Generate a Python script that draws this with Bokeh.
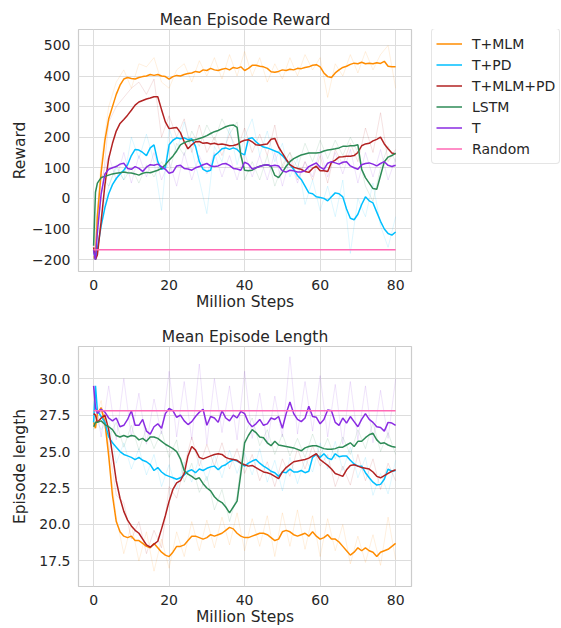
from bokeh.plotting import figure
from bokeh.models import Legend, LegendItem, FixedTicker, CustomJSTickFormatter, Range1d
from bokeh.layouts import column, row
from bokeh.embed import file_html
from bokeh.resources import INLINE

# ---------------- data ----------------
steps = [0, 0.5] + list(range(1, 81))        # million steps (smoothed curves)
raw_steps = list(range(0, 81, 2))            # million steps (raw, faint curves)

series_names = ["T+MLM", "T+PD", "T+MLM+PD", "LSTM", "T", "Random"]
series_colors = ["#ff8c00", "#00bfff", "#b22222", "#2e8b57", "#8a2be2", "#ff69b4"]

reward_t_mlm = [-190, -195, -60, 85, 190, 260, 300, 340, 370, 390, 395, 392, 390, 395, 398, 400, 405, 402, 405, 400,
                398, 390, 398, 402, 400, 405, 408, 410, 415, 412, 420, 418, 425, 420, 418, 422, 425, 420, 428, 425,
                430, 418, 425, 435, 435, 432, 430, 425, 414, 412, 415, 420, 418, 422, 420, 425, 424, 428, 430, 435,
                437, 430, 410, 398, 395, 410, 420, 428, 432, 438, 442, 440, 445, 440, 442, 440, 443, 441, 448, 432,
                430, 430]
reward_t_pd = [-170, -200, -165, -90, -30, 15, 45, 65, 80, 92, 110, 140, 160, 158, 150, 140, 165, 175, 120, 95,
               100, 175, 190, 198, 195, 198, 192, 195, 170, 120, 95, 88, 92, 140, 150, 162, 165, 160, 165, 160,
               148, 142, 195, 198, 185, 175, 168, 165, 160, 155, 150, 140, 125, 110, 95, 75, 62, 40, 18, 15,
               5, 3, 0, -8, 5, 18, 15, 5, -35, -65, -70, -52, -20, 5, -8, -15, -45, -75, -100, -115,
               -120, -110]
reward_t_mlm_pd = [-160, -200, -185, -75, 45, 130, 180, 220, 245, 258, 272, 288, 305, 315, 320, 325, 328, 332, 332, 290,
                   250, 228, 230, 232, 215, 185, 162, 175, 185, 186, 180, 182, 178, 180, 176, 178, 175, 172, 173, 176,
                   185, 190, 192, 185, 175, 174, 176, 178, 193, 196, 168, 148, 128, 110, 102, 98, 95, 88, 85, 98,
                   105, 90, 90, 88, 118, 125, 135, 136, 138, 138, 140, 150, 172, 178, 180, 188, 193, 200, 178, 162,
                   148, 145]
reward_lstm = [-155, 20, 50, 68, 72, 76, 80, 82, 84, 86, 84, 83, 80, 76, 82, 85, 84, 88, 92, 98,
               110, 125, 138, 155, 175, 182, 187, 190, 192, 196, 200, 205, 212, 218, 222, 228, 234, 238, 240, 232,
               140, 92, 90, 92, 100, 105, 108, 110, 105, 75, 68, 85, 105, 120, 130, 136, 142, 145, 148, 148,
               148, 150, 155, 158, 160, 162, 165, 170, 170, 172, 172, 175, 95, 68, 50, 32, 30, 75, 120, 135,
               140, 148]
reward_t = [-170, -200, -110, 15, 80, 95, 100, 104, 112, 115, 98, 95, 104, 98, 88, 102, 110, 108, 112, 104,
            95, 82, 86, 106, 108, 98, 96, 92, 100, 104, 110, 114, 106, 104, 106, 112, 114, 108, 98, 96,
            92, 118, 112, 96, 100, 104, 108, 110, 106, 108, 106, 90, 86, 92, 90, 86, 86, 90, 104, 110,
            116, 102, 95, 115, 120, 116, 112, 118, 120, 106, 100, 95, 110, 114, 116, 112, 106, 114, 120, 108,
            104, 108]
reward_random = -168

raw_reward_t_mlm = [-200, 120, 300, 380, 420, 360, 440, 430, 460, 380, 360, 420, 440, 380, 450, 400, 460, 390, 470, 400,
                    480, 400, 460, 380, 440, 390, 460, 400, 470, 420, 460, 330, 440, 400, 470, 410, 480, 420, 470, 500, 360]
raw_reward_t_pd = [-200, -60, 40, 100, 60, 200, 130, 210, 120, -40, 230, 150, 250, 160, 60, -50, 170, 120, 230, 110,
                   200, 260, 140, 220, 120, 180, 70, 130, -20, 60, -40, 40, -60, 60, -180, 0, -60, 50, -90, -160, -60]
raw_reward_t_mlm_pd = [-200, 0, 250, 300, 330, 360, 380, 340, 390, 200, 270, 200, 260, 150, 240, 150, 200, 140, 210, 160,
                       230, 150, 210, 140, 240, 100, 150, 60, 120, 60, 140, 50, 160, 110, 180, 120, 230, 150, 280, 120, 160]
raw_reward_lstm = [-150, 80, 40, 110, 60, 100, 50, 110, 70, 120, 80, 180, 140, 220, 170, 240, 190, 260, 210, 250,
                   60, 120, 60, 140, 40, 110, 150, 100, 180, 120, 190, 130, 190, 140, 200, 150, 40, -10, 100, 170, 120]
raw_reward_t = [-200, 60, 140, 60, 150, 50, 140, 70, 150, 60, 120, 40, 150, 60, 140, 80, 150, 70, 140, 60,
                150, 70, 140, 60, 150, 40, 130, 50, 120, 70, 160, 70, 150, 80, 160, 50, 150, 70, 160, 60, 130]

length_t_mlm = [27.0, 26.6, 27.6, 28.0, 27.0, 24.7, 22.0, 20.2, 19.5, 19.2, 19.1, 19.2, 18.9, 18.9, 18.7, 18.5, 18.4, 18.7, 18.4, 18.1,
                17.9, 17.8, 18.1, 18.5, 18.5, 18.6, 18.9, 19.2, 19.2, 19.1, 19.0, 19.1, 19.3, 19.2, 19.3, 19.4, 19.6, 19.8, 19.7, 19.4,
                19.2, 19.1, 19.1, 19.2, 19.3, 19.4, 19.4, 19.3, 19.1, 18.9, 19.0, 19.5, 19.6, 19.5, 19.3, 19.2, 19.3, 19.4, 19.2, 19.5,
                19.2, 19.0, 19.1, 19.3, 19.0, 19.0, 18.8, 18.5, 18.2, 17.9, 18.1, 18.4, 18.2, 18.4, 18.2, 18.1, 17.8, 18.1, 18.2, 18.3,
                18.5, 18.7]
length_t_pd = [27.0, 29.5, 27.8, 27.4, 27.0, 26.0, 25.6, 25.3, 25.0, 24.8, 24.7, 24.6, 24.45, 24.6, 24.4, 24.3, 24.1, 23.7, 23.9, 23.6,
               23.4, 23.3, 23.2, 23.1, 23.2, 23.4, 23.65, 23.75, 23.55, 23.8, 23.7, 23.85, 23.95, 24.0, 23.75, 24.0, 24.1, 24.3, 24.45, 24.35,
               24.2, 24.0, 24.2, 24.35, 24.45, 24.2, 24.0, 23.85, 23.65, 23.55, 23.3, 23.6, 23.55, 23.8, 23.6, 23.6, 23.7, 23.55, 23.65, 24.6,
               24.8, 24.6, 24.85, 24.55, 24.45, 24.85, 24.65, 24.7, 24.7, 24.4, 24.15, 24.0, 24.0, 23.55, 23.2, 22.9, 22.7, 22.75, 23.1, 23.8,
               23.65, 23.7]
length_t_mlm_pd = [27.6, 27.5, 27.0, 27.3, 27.5, 26.5, 24.8, 23.0, 21.8, 20.9, 20.3, 19.9, 19.6, 19.4, 19.0, 18.6, 18.45, 18.65, 18.85, 19.7,
                   20.6, 21.6, 22.4, 22.85, 23.0, 23.5, 24.7, 25.35, 25.1, 24.6, 24.5, 24.6, 24.7, 24.8, 24.85, 24.8, 24.6, 24.5, 24.45, 24.4,
                   24.2, 24.1, 24.0, 24.05, 23.9, 23.75, 23.6, 23.55, 23.45, 23.3, 23.15, 23.6, 23.9, 24.1, 24.3, 24.35, 24.4, 24.45, 24.55, 24.7,
                   24.85, 24.45, 24.25, 24.05, 23.8, 23.5, 23.4, 23.3, 23.75, 24.05, 24.1, 24.0, 23.9, 23.85, 23.8, 23.6, 23.3, 23.2, 23.35, 23.5,
                   23.65, 23.75]
length_lstm = [26.7, 27.0, 27.0, 27.1, 26.85, 26.7, 26.5, 26.1, 26.0, 26.1, 26.0, 26.1, 26.05, 25.8, 25.9, 25.7, 26.0, 26.0, 25.9, 25.7,
               25.5, 25.35, 25.2, 25.0, 24.5, 23.7, 23.45, 23.3, 23.1, 23.2, 22.8, 22.5, 22.3, 21.9, 21.65, 21.5, 21.2, 20.8, 21.2, 21.6,
               23.5, 25.6, 26.1, 26.5, 26.3, 26.0, 25.95, 25.6, 25.4, 25.7, 25.45, 25.4, 25.35, 25.3, 25.25, 25.15, 25.05, 25.25, 25.35, 25.4,
               25.4, 25.3, 25.2, 25.15, 25.15, 25.2, 25.3, 25.3, 25.45, 25.6, 25.35, 25.7, 25.7, 25.95, 26.15, 26.25, 25.8, 25.55, 25.6, 25.45,
               25.35, 25.3]
length_t = [29.5, 28.0, 27.6, 27.9, 27.7, 27.3, 27.1, 27.3, 26.7, 26.8, 27.2, 27.8, 26.8, 26.8, 27.2, 26.4, 26.2, 26.7, 26.9, 26.6,
            27.6, 27.95, 27.8, 27.35, 27.5, 27.1, 26.85, 27.05, 27.4, 27.7, 27.9, 26.8, 27.4, 27.3, 27.0, 27.8, 27.3, 27.1, 27.5, 27.3,
            27.75, 27.6, 27.0, 26.7, 26.9, 27.2, 26.8, 26.9, 27.3, 27.2, 27.4, 26.6, 27.6, 28.4, 27.6, 27.2, 27.05, 27.3, 28.1, 27.4,
            27.35, 26.9, 27.2, 27.85, 27.8, 27.0, 26.8, 27.3, 26.95, 27.4, 27.05, 26.7, 27.2, 27.6, 27.2, 27.0, 26.7, 26.65, 26.4, 27.0,
            26.95, 26.8]
length_random = 27.8

raw_length_t_mlm = [27.0, 28.5, 25.0, 20.5, 18.0, 20.0, 17.5, 19.5, 16.8, 19.0, 17.0, 19.5, 17.8, 20.2, 18.2, 20.3, 18.4, 20.5, 18.6, 20.8,
                    18.2, 20.4, 18.5, 20.6, 17.8, 20.8, 18.5, 21.0, 18.3, 20.6, 17.8, 20.4, 18.2, 20.0, 17.3, 19.2, 17.4, 19.3, 17.2, 20.5, 17.6]
raw_length_t_pd = [27.5, 26.5, 27.3, 24.2, 25.6, 23.8, 25.2, 23.4, 24.8, 22.6, 24.1, 22.4, 24.3, 22.9, 24.6, 23.0, 24.8, 23.2, 25.1, 23.5,
                   24.9, 23.4, 25.2, 22.9, 24.4, 22.3, 24.6, 22.8, 24.5, 23.6, 25.6, 23.8, 25.7, 23.7, 25.3, 23.2, 24.6, 22.0, 23.5, 22.1, 24.4]
raw_length_t_mlm_pd = [27.5, 28.0, 25.5, 22.0, 21.5, 19.0, 20.2, 18.0, 19.6, 18.4, 22.6, 21.8, 24.0, 26.0, 24.0, 25.5, 24.0, 25.6, 23.8, 25.2,
                       23.5, 24.8, 23.0, 24.3, 22.6, 24.5, 23.3, 25.2, 23.8, 25.4, 24.0, 24.8, 22.6, 24.0, 22.7, 24.8, 23.0, 24.5, 22.4, 24.2, 23.0]
raw_length_lstm = [26.5, 27.8, 26.0, 27.0, 25.3, 26.8, 25.1, 26.6, 25.2, 26.4, 24.6, 25.8, 22.9, 24.2, 22.2, 23.3, 21.0, 22.4, 20.2, 22.0,
                   26.2, 27.3, 25.4, 26.5, 24.8, 26.2, 24.7, 25.9, 24.6, 26.2, 24.7, 25.9, 24.5, 26.0, 24.8, 26.5, 25.2, 27.0, 25.0, 26.3, 24.8]
raw_length_t = [29.5, 26.0, 29.5, 25.8, 30.0, 26.0, 29.0, 25.5, 28.6, 26.2, 30.5, 26.0, 29.8, 25.8, 31.0, 25.5, 30.0, 26.3, 29.5, 25.8,
                30.5, 25.9, 29.0, 25.5, 28.8, 26.0, 31.5, 26.2, 29.8, 26.4, 30.2, 26.0, 29.6, 25.5, 29.8, 25.8, 29.5, 25.6, 29.2, 25.9, 30.0]

x_ticks = [0, 20, 40, 60, 80]
reward_ticks = [-200, -100, 0, 100, 200, 300, 400, 500]
length_ticks = [17.5, 20.0, 22.5, 25.0, 27.5, 30.0]

FONT = "DejaVu Sans"
TXT = "#262626"


def style(p, title, ylabel, yticks, yfmt, ylabel_standoff):
    p.title.text = title
    p.title.align = "center"
    p.title.text_font = FONT
    p.title.text_font_size = "15.5px"
    p.title.text_font_style = "normal"
    p.title.text_color = TXT
    p.title.standoff = 2
    p.outline_line_color = "#cccccc"
    p.outline_line_width = 1.2
    p.background_fill_color = "white"
    p.border_fill_color = "white"
    for g in (p.xgrid[0], p.ygrid[0]):
        g.grid_line_color = "#dddddd"
        g.grid_line_width = 1
    p.xaxis.ticker = FixedTicker(ticks=x_ticks)
    p.yaxis.ticker = FixedTicker(ticks=yticks)
    p.yaxis.formatter = CustomJSTickFormatter(code=yfmt)
    p.xaxis.axis_label = "Million Steps"
    p.yaxis.axis_label = ylabel
    for ax in (p.xaxis[0], p.yaxis[0]):
        ax.axis_line_color = None
        ax.major_tick_line_color = None
        ax.minor_tick_line_color = None
        ax.major_tick_out = 0
        ax.major_tick_in = 0
        ax.major_label_text_font = FONT
        ax.major_label_text_font_size = "14px"
        ax.major_label_text_color = TXT
        ax.major_label_standoff = 8
        ax.axis_label_text_font = FONT
        ax.axis_label_text_font_size = "15.5px"
        ax.axis_label_text_font_style = "normal"
        ax.axis_label_text_color = TXT
    p.xaxis.axis_label_standoff = 0
    p.yaxis.axis_label_standoff = ylabel_standoff


# ---------------- top: reward ----------------
top = figure(width=420, height=318, x_range=Range1d(-4, 84.2), y_range=Range1d(-239, 552),
             output_backend="svg", toolbar_location=None,
             min_border_left=78, min_border_right=9, min_border_top=29, min_border_bottom=47)
style(top, "Mean Episode Reward", "Reward", reward_ticks,
      "return tick < 0 ? '\\u2212' + (-tick) : '' + tick;", 0)

raw_reward = [raw_reward_t_mlm, raw_reward_t_pd, raw_reward_t_mlm_pd, raw_reward_lstm, raw_reward_t]
for ys, c in zip(raw_reward, series_colors[:5]):
    top.line(raw_steps, ys, line_color=c, line_width=1, line_alpha=0.13)

reward_series = [reward_t_mlm, reward_t_pd, reward_t_mlm_pd, reward_lstm, reward_t]
for ys, c in zip(reward_series, series_colors[:5]):
    top.line(steps, ys, line_color=c, line_width=1.5)
top.line([steps[0], steps[-1]], [reward_random, reward_random], line_color=series_colors[5], line_width=1.5)

# ---------------- legend panel (right of the reward plot) ----------------
leg_fig = figure(width=141, height=318, x_range=Range1d(0, 1), y_range=Range1d(0, 1),
                 x_axis_type=None, y_axis_type=None, output_backend="svg", toolbar_location=None,
                 min_border=0)
leg_fig.grid.visible = False
leg_fig.outline_line_color = None
leg_fig.border_fill_color = "white"
leg_fig.background_fill_color = "white"
nan = float("nan")
sample_renderers = [leg_fig.line(x=[nan], y=[nan], line_color=c, line_width=1.5) for c in series_colors]
legend = Legend(items=[LegendItem(label=n, renderers=[r]) for n, r in zip(series_names, sample_renderers)],
                location=(11, 107))
legend.label_text_font = FONT
legend.label_text_font_size = "14px"
legend.label_text_color = TXT
legend.border_line_color = "#cccccc"
legend.border_line_width = 1
legend.background_fill_color = "white"
legend.background_fill_alpha = 0.8
legend.glyph_width = 26
legend.glyph_height = 21
legend.label_height = 21
legend.label_standoff = 10
legend.padding = 4
legend.spacing = 0
legend.margin = 0
if "border_radius" in legend.properties():
    legend.border_radius = 4
leg_fig.add_layout(legend, "center")

# ---------------- bottom: episode length ----------------
bot = figure(width=561, height=310, x_range=Range1d(-4, 84.2), y_range=Range1d(15.75, 32.2),
             output_backend="svg", toolbar_location=None,
             min_border_left=78, min_border_right=150, min_border_top=28, min_border_bottom=41)
style(bot, "Mean Episode Length", "Episode length", length_ticks, "return tick.toFixed(1);", 7)

raw_length = [raw_length_t_mlm, raw_length_t_pd, raw_length_t_mlm_pd, raw_length_lstm, raw_length_t]
for ys, c in zip(raw_length, series_colors[:5]):
    bot.line(raw_steps, ys, line_color=c, line_width=1, line_alpha=0.13)

length_series = [length_t_mlm, length_t_pd, length_t_mlm_pd, length_lstm, length_t]
for ys, c in zip(length_series, series_colors[:5]):
    bot.line(steps, ys, line_color=c, line_width=1.5)
bot.line([steps[0], steps[-1]], [length_random, length_random], line_color=series_colors[5], line_width=1.5)

layout = column(row(top, leg_fig, spacing=0), bot, spacing=0)
open("out.html", "w").write(file_html(layout, INLINE))
